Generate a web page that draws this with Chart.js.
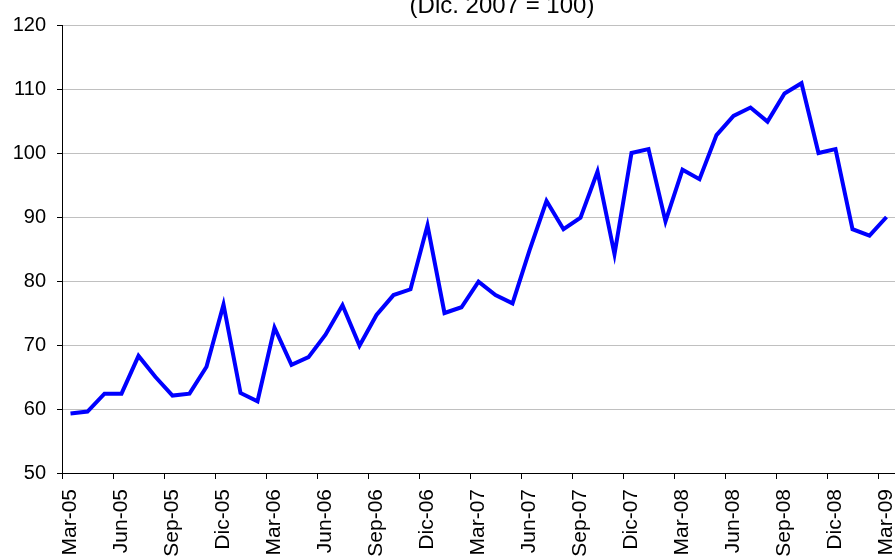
<!DOCTYPE html>
<html>
<head>
<meta charset="utf-8">
<script src="https://cdn.jsdelivr.net/npm/chart.js@4/dist/chart.umd.min.js"></script>
<style>
  html, body { margin: 0; padding: 0; background: #fff; overflow: hidden; }
  #wrap { width: 895px; height: 557px; }
</style>
</head>
<body>
<div id="wrap"><canvas id="chart"></canvas></div>
<script>
// Monthly index, Mar-05 .. Mar-09 (Dic. 2007 = 100)
const months = [
  'Mar-05','Abr-05','May-05','Jun-05','Jul-05','Ago-05','Sep-05','Oct-05','Nov-05','Dic-05',
  'Ene-06','Feb-06','Mar-06','Abr-06','May-06','Jun-06','Jul-06','Ago-06','Sep-06','Oct-06','Nov-06','Dic-06',
  'Ene-07','Feb-07','Mar-07','Abr-07','May-07','Jun-07','Jul-07','Ago-07','Sep-07','Oct-07','Nov-07','Dic-07',
  'Ene-08','Feb-08','Mar-08','Abr-08','May-08','Jun-08','Jul-08','Ago-08','Sep-08','Oct-08','Nov-08','Dic-08',
  'Ene-09','Feb-09','Mar-09'
];
const indexValues = [
  59.3, 59.6, 62.4, 62.4, 68.3, 65.0, 62.1, 62.4, 66.6, 76.3,
  62.5, 61.2, 72.7, 66.9, 68.1, 71.6, 76.2, 69.9, 74.7, 77.8, 78.7, 88.7,
  75.0, 75.9, 79.9, 77.8, 76.5, 84.8, 92.5, 88.1, 89.9, 97.1, 84.2, 100.0,
  100.6, 89.3, 97.4, 95.9, 102.8, 105.8, 107.1, 104.9, 109.3, 110.9, 100.0, 100.6,
  88.1, 87.1, 90.0
];
const yMin = 50;
const yMax = 120;
const yStep = 10;
const titleText = '(Dic. 2007 = 100)';

// title sits partly above the picture, so draw it by hand
const topTitle = {
  id: 'topTitle',
  afterDraw(chart) {
    const c = chart.ctx;
    c.save();
    c.font = '24px "Liberation Sans", Arial, sans-serif';
    c.fillStyle = '#000';
    c.textAlign = 'center';
    c.textBaseline = 'alphabetic';
    c.fillText(titleText, 502, 12.5);
    c.restore();
  }
};

const ctx = document.getElementById('chart').getContext('2d');
new Chart(ctx, {
  type: 'line',
  data: {
    labels: months,
    datasets: [{
      data: indexValues,
      borderColor: '#0000ff',
      borderWidth: 4,
      pointRadius: 0,
      tension: 0,
      fill: false,
      borderJoinStyle: 'miter'
    }]
  },
  options: {
    responsive: true,
    maintainAspectRatio: false,
    animation: false,
    layout: { padding: { top: 25, right: 0, left: 0, bottom: 0 } },
    plugins: {
      legend: { display: false },
      tooltip: { enabled: false },
      title: { display: false }
    },
    scales: {
      x: {
        type: 'category',
        offset: true,
        afterFit(scale) {
          scale.height = 84;
          scale.paddingLeft = 0;
          scale.paddingRight = 0;
        },
        grid: {
          offset: true,
          drawOnChartArea: false,
          drawTicks: true,
          tickLength: 6,
          tickColor: (c) => (c.index % 3 === 0 ? '#000' : 'rgba(0,0,0,0)')
        },
        border: { color: '#000', width: 1 },
        ticks: {
          autoSkip: false,
          maxRotation: 90,
          minRotation: 90,
          padding: 10,
          color: '#000',
          font: { family: '"Liberation Sans", Arial, sans-serif', size: 21 },
          callback: function(v, i) { return i % 3 === 0 ? months[i] : ''; }
        }
      },
      y: {
        min: yMin,
        max: yMax,
        afterFit(scale) {
          scale.width = 62;
          scale.paddingTop = 0;
          scale.paddingBottom = 0;
        },
        grid: {
          color: '#c0c0c0',
          lineWidth: 1,
          drawTicks: true,
          tickLength: 5,
          tickColor: '#000'
        },
        border: { color: '#000', width: 1 },
        ticks: {
          stepSize: yStep,
          padding: 11,
          color: '#000',
          font: { family: '"Liberation Sans", Arial, sans-serif', size: 20 }
        }
      }
    }
  },
  plugins: [topTitle]
});
</script>
</body>
</html>
